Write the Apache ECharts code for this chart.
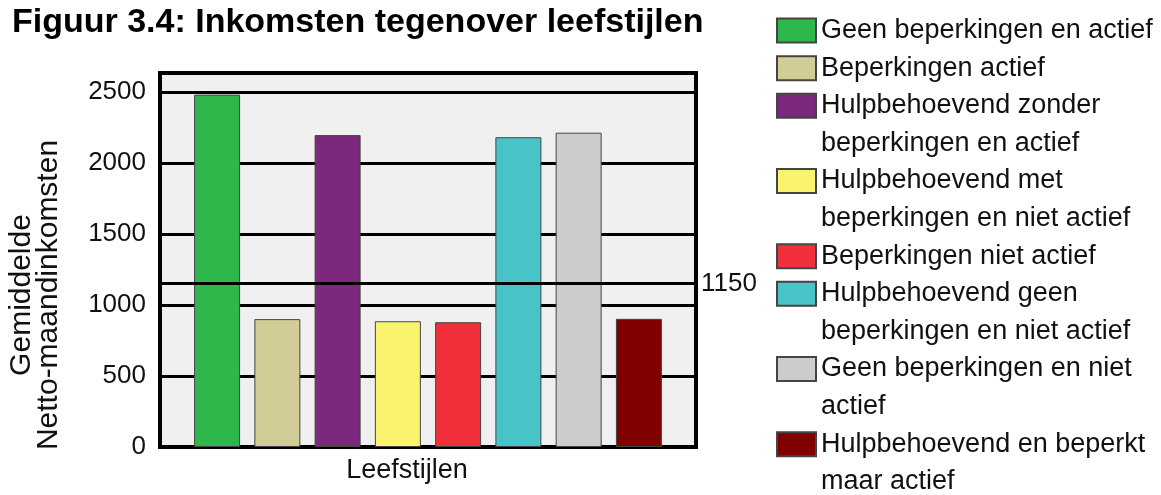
<!DOCTYPE html>
<html>
<head>
<meta charset="utf-8">
<script src="https://cdn.jsdelivr.net/npm/echarts@6/dist/echarts.min.js"></script>
<style>
  html, body { margin: 0; padding: 0; background: #fff; }
  #chart { width: 1161px; height: 495px; }
</style>
</head>
<body>
<div id="chart"></div>
<script>
// chart data
const titleText = 'Figuur 3.4: Inkomsten tegenover leefstijlen';
const categories = ['Leefstijlen'];
const names = [
  'Geen beperkingen en actief',
  'Beperkingen actief',
  'Hulpbehoevend zonder beperkingen en actief',
  'Hulpbehoevend met beperkingen en niet actief',
  'Beperkingen niet actief',
  'Hulpbehoevend geen beperkingen en niet actief',
  'Geen beperkingen en niet actief',
  'Hulpbehoevend en beperkt maar actief'
];
const legendLabels = [
  'Geen beperkingen en actief',
  'Beperkingen actief',
  'Hulpbehoevend zonder\nbeperkingen en actief',
  'Hulpbehoevend met\nbeperkingen en niet actief',
  'Beperkingen niet actief',
  'Hulpbehoevend geen\nbeperkingen en niet actief',
  'Geen beperkingen en niet\nactief',
  'Hulpbehoevend en beperkt\nmaar actief'
];
const values = [2480, 900, 2195, 885, 878, 2180, 2212, 902];
const colors = ['#2eb84b', '#d2cc96', '#7c287c', '#f9f36e', '#f0303a', '#48c3c8', '#cccccc', '#800000'];
const refValue = 1150;
const yMax = 2632;

const chart = echarts.init(document.getElementById('chart'));

// legend: one block per item so the swatch lines up with the first text line
const LH = 37.6;
const SW = 39, SH = 24;
let line = 0;
const legends = names.map((name, i) => {
  const nLines = legendLabels[i].split('\n').length;
  const h = nLines * LH;
  const y0 = (LH - SH) / 2, y1 = y0 + SH;
  const top = 10.8 + line * LH;
  line += nLines;
  return {
    left: 776,
    top: top,
    padding: 0,
    orient: 'vertical',
    itemWidth: SW,
    itemHeight: h,
    selectedMode: false,
    data: [{
      name: name,
      icon: `path://M0,0M0,${y0}L${SW},${y0}L${SW},${y1}L0,${y1}ZM${SW},${h}`
    }],
    formatter: () => legendLabels[i],
    textStyle: {
      fontFamily: 'Liberation Sans, Arial, sans-serif',
      fontSize: 27,
      lineHeight: LH,
      color: '#111'
    }
  };
});

const barSeries = names.map((name, i) => ({
  name: name,
  type: 'bar',
  z: 2,
  barWidth: 46,
  barGap: '31%',
  data: [values[i]],
  itemStyle: { color: colors[i], borderColor: '#444', borderWidth: 1 },
  animation: false
}));

// reference line (drawn behind the bars)
const refSeries = {
  name: 'ref',
  type: 'line',
  z: 1,
  data: [],
  animation: false,
  markLine: {
    silent: true,
    symbol: 'none',
    animation: false,
    lineStyle: { color: '#000', width: 3, type: 'solid' },
    label: {
      position: 'end',
      distance: 5,
      formatter: String(refValue),
      fontFamily: 'Liberation Sans, Arial, sans-serif',
      fontSize: 26,
      color: '#111'
    },
    data: [{ yAxis: refValue }]
  }
};

chart.setOption({
  backgroundColor: '#fff',
  animation: false,
  title: {
    text: titleText,
    left: 12,
    top: 6,
    padding: 0,
    textStyle: {
      fontFamily: 'Liberation Sans, Arial, sans-serif',
      fontWeight: 'bold',
      fontSize: 34,
      color: '#000'
    }
  },
  legend: legends,
  grid: {
    left: 160,
    right: 465,
    top: 73,
    bottom: 48,
    show: true,
    backgroundColor: '#f0f0f0',
    borderColor: '#000',
    borderWidth: 4,
    outerBoundsMode: 'none'
  },
  xAxis: {
    type: 'category',
    data: categories,
    axisLine: { show: true, lineStyle: { color: '#000', width: 4 } },
    axisTick: { show: false },
    axisLabel: { show: false },
    name: 'Leefstijlen',
    nameLocation: 'middle',
    nameGap: 10,
    nameTextStyle: {
      fontFamily: 'Liberation Sans, Arial, sans-serif',
      fontSize: 27,
      color: '#111',
      padding: [0, 42, 0, 0]
    }
  },
  yAxis: {
    type: 'value',
    min: 0,
    max: yMax,
    interval: 500,
    axisLine: { show: false },
    axisTick: { show: false },
    axisLabel: {
      showMaxLabel: false,
      margin: 14,
      formatter: v => String(v),
      fontFamily: 'Liberation Sans, Arial, sans-serif',
      fontSize: 26,
      color: '#111'
    },
    splitLine: { show: true, lineStyle: { color: '#000', width: 3 } },
    name: 'Gemiddelde\nNetto-maandinkomsten',
    nameLocation: 'middle',
    nameGap: 98,
    nameTextStyle: {
      fontFamily: 'Liberation Sans, Arial, sans-serif',
      fontSize: 30,
      lineHeight: 27,
      color: '#111',
      padding: [0, 70, 0, 0]
    }
  },
  series: [refSeries].concat(barSeries)
});
</script>
</body>
</html>
